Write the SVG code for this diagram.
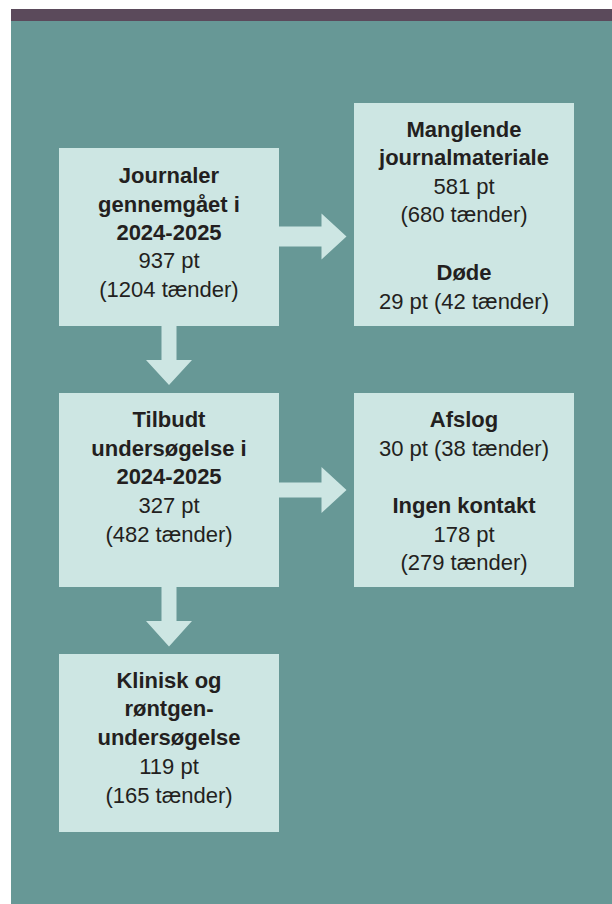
<svg xmlns="http://www.w3.org/2000/svg" width="612" height="904" viewBox="0 0 612 904">
  <style>
    .box { fill: #cde6e3; }
    .arrow { fill: #cde6e3; }
    text { font-family: "Liberation Sans", Arial, sans-serif; font-size: 22px; fill: #231f20; text-anchor: middle; }
    .b { font-weight: bold; }
  </style>
  <rect x="0" y="0" width="612" height="904" fill="#ffffff"/>
  <rect x="11" y="9" width="601" height="12" fill="#5b4a5b"/>
  <rect x="11" y="21" width="601" height="883" fill="#679896"/>

  <g id="connectors">
    <polygon class="arrow" points="279,226.5 321.5,226.5 321.5,213.5 346.5,236.5 321.5,259.5 321.5,246.5 279,246.5"/>
    <polygon class="arrow" points="279,482.5 321.5,482.5 321.5,467 346.5,490 321.5,513 321.5,497.5 279,497.5"/>
    <polygon class="arrow" points="161.5,326 176.5,326 176.5,360 192,360 169,385 146,360 161.5,360"/>
    <polygon class="arrow" points="161.5,587 176.5,587 176.5,621 192,621 169,646.5 146,621 161.5,621"/>
  </g>

  <g id="node-journaler">
    <rect class="box" x="59" y="148" width="220" height="178"/>
    <text x="169" y="183" class="b">Journaler</text>
    <text x="169" y="212" class="b">gennemgået i</text>
    <text x="169" y="240" class="b">2024-2025</text>
    <text x="169" y="268">937 pt</text>
    <text x="169" y="297">(1204 tænder)</text>
  </g>

  <g id="node-manglende">
    <rect class="box" x="354" y="103" width="220" height="223"/>
    <text x="464" y="137" class="b">Manglende</text>
    <text x="464" y="165" class="b">journalmateriale</text>
    <text x="464" y="194">581 pt</text>
    <text x="464" y="222">(680 tænder)</text>
    <text x="464" y="280" class="b">Døde</text>
    <text x="464" y="309">29 pt (42 tænder)</text>
  </g>

  <g id="node-tilbudt">
    <rect class="box" x="59" y="393" width="220" height="194"/>
    <text x="169" y="427" class="b">Tilbudt</text>
    <text x="169" y="456" class="b">undersøgelse i</text>
    <text x="169" y="484" class="b">2024-2025</text>
    <text x="169" y="513">327 pt</text>
    <text x="169" y="542">(482 tænder)</text>
  </g>

  <g id="node-afslog">
    <rect class="box" x="354" y="393" width="220" height="194"/>
    <text x="464" y="427" class="b">Afslog</text>
    <text x="464" y="456">30 pt (38 tænder)</text>
    <text x="464" y="513" class="b">Ingen kontakt</text>
    <text x="464" y="542">178 pt</text>
    <text x="464" y="570">(279 tænder)</text>
  </g>

  <g id="node-klinisk">
    <rect class="box" x="59" y="654" width="220" height="178"/>
    <text x="169" y="688" class="b">Klinisk og</text>
    <text x="169" y="716" class="b">røntgen-</text>
    <text x="169" y="745" class="b">undersøgelse</text>
    <text x="169" y="774">119 pt</text>
    <text x="169" y="803">(165 tænder)</text>
  </g>
</svg>
